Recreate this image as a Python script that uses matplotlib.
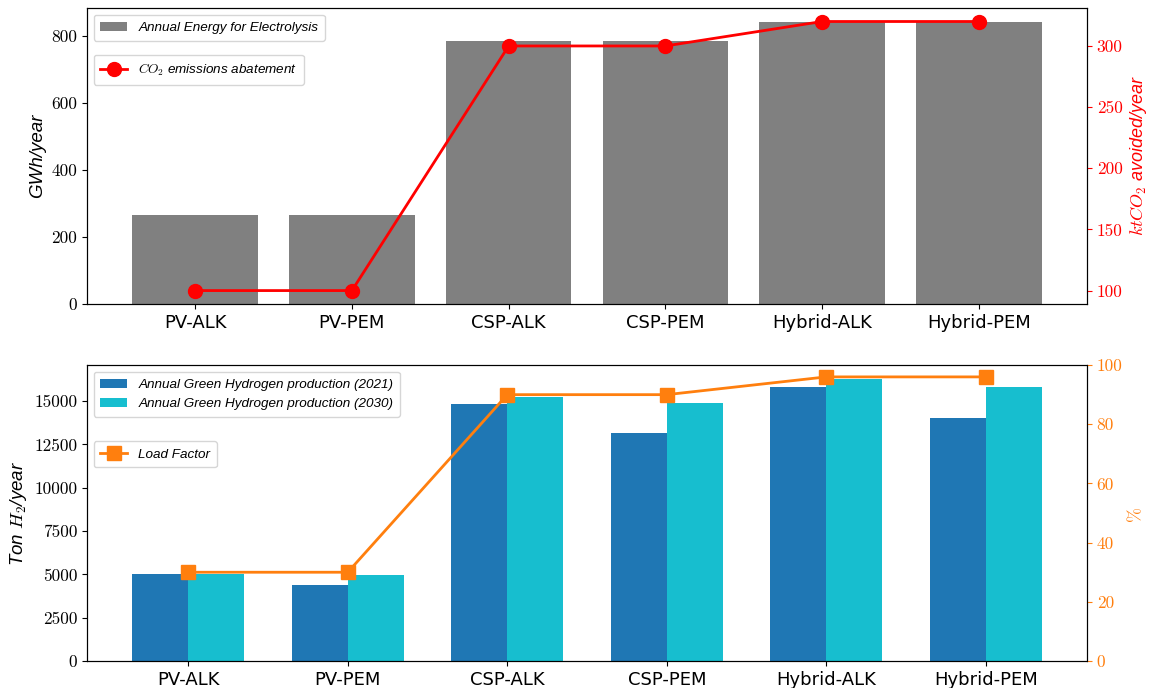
import matplotlib
matplotlib.use("Agg")
import matplotlib.pyplot as plt
import numpy as np

plt.rcParams['mathtext.fontset'] = 'cm'

categorias = ['PV-ALK', 'PV-PEM', 'CSP-ALK', 'CSP-PEM', 'Hybrid-ALK', 'Hybrid-PEM']
energia_gwh = [264, 264, 785, 785, 840, 840]
co2_abatido = [100, 100, 300, 300, 320, 320]
h2_2021 = [5000, 4400, 14850, 13150, 15800, 14050]
h2_2030 = [5050, 4980, 15250, 14870, 16270, 15800]
fator_carga = [30, 30, 90, 90, 96, 96]

cinza = '#808080'
vermelho = 'red'
azul = '#1f77b4'
ciano = '#17becf'
laranja = '#ff7f0e'

fonte_it = {'family': 'Liberation Sans', 'style': 'italic', 'size': 9.7}
fig = plt.figure(figsize=(11.51, 6.88), dpi=100)
x = np.arange(len(categorias))


def estilo_ticks(ax, cor='black'):
    for lab in ax.get_yticklabels():
        lab.set_fontname('cmr10')
        lab.set_fontsize(12.5)
        lab.set_color(cor)


# ---- painel superior
ax1 = fig.add_axes([0.0756, 0.5581, 0.8688, 0.4302])
ax1.bar(x, energia_gwh, width=0.8, color=cinza, label='Annual Energy for Electrolysis')
ax1.set_xticks(x)
ax1.set_xticklabels(categorias, fontsize=13, family='DejaVu Sans')
ax1.set_ylabel('GWh/year', fontsize=13.5, style='italic', family='Liberation Sans')
ax1.set_yticks([0, 200, 400, 600, 800])
estilo_ticks(ax1)

ax2 = ax1.twinx()
ax2.plot(x, co2_abatido, color=vermelho, marker='o', markersize=10, linewidth=2,
         label=r'$CO_2$ emissions abatement')
ax2.set_ylabel(r'$ktCO_2$ avoided/year', fontsize=13, style='italic',
               family='Liberation Sans', color=vermelho)
ax2.tick_params(axis='y', colors=vermelho)
ax2.set_yticks([100, 150, 200, 250, 300])
estilo_ticks(ax2, vermelho)

leg1 = ax2.legend(*ax1.get_legend_handles_labels(), loc='upper left', prop=fonte_it,
                  borderpad=0.5)
ax2.add_artist(leg1)
ax2.legend(loc='upper left', bbox_to_anchor=(0, 0.865), prop=fonte_it, borderpad=0.5)

# ---- painel inferior
ax3 = fig.add_axes([0.0756, 0.0392, 0.8688, 0.4302])
w = 0.35
ax3.bar(x - w / 2, h2_2021, width=w, color=azul, label='Annual Green Hydrogen production (2021)')
ax3.bar(x + w / 2, h2_2030, width=w, color=ciano, label='Annual Green Hydrogen production (2030)')
ax3.set_xticks(x)
ax3.set_xticklabels(categorias, fontsize=13, family='DejaVu Sans')
ax3.set_ylabel(r'Ton $H_2$/year', fontsize=13.5, style='italic', family='Liberation Sans')
ax3.set_yticks([0, 2500, 5000, 7500, 10000, 12500, 15000])
estilo_ticks(ax3)

ax4 = ax3.twinx()
ax4.plot(x, fator_carga, color=laranja, marker='s', markersize=10, linewidth=2,
         label='Load Factor')
ax4.set_ylim(0, 100)
ax4.set_ylabel('%', fontsize=13, color=laranja, family='cmr10')
ax4.tick_params(axis='y', colors=laranja)
ax4.set_yticks([0, 20, 40, 60, 80, 100])
estilo_ticks(ax4, laranja)

leg3 = ax4.legend(*ax3.get_legend_handles_labels(), loc='upper left', prop=fonte_it,
                  borderpad=0.5)
ax4.add_artist(leg3)
ax4.legend(loc='upper left', bbox_to_anchor=(0, 0.765), prop=fonte_it, borderpad=0.5)

plt.savefig('out.png', dpi=100)
